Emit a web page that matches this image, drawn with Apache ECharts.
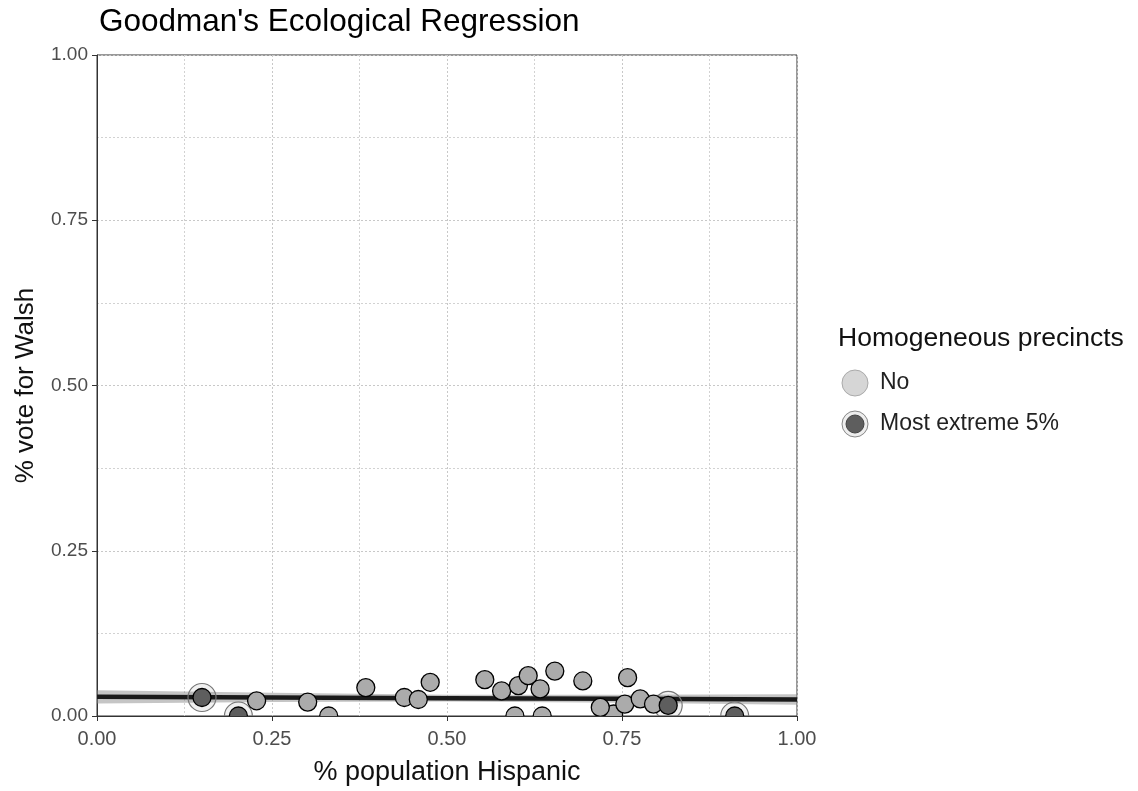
<!DOCTYPE html>
<html>
<head>
<meta charset="utf-8">
<script src="https://cdn.jsdelivr.net/npm/echarts@6/dist/echarts.min.js"></script>
<style>
html,body{margin:0;padding:0;background:#fff;}
#chart{width:1138px;height:791px;}
</style>
</head>
<body>
<div id="chart"></div>
<script>
// ---- data ----
const xNo = [0.228, 0.301, 0.331, 0.384, 0.439, 0.459, 0.476, 0.554, 0.578, 0.597, 0.602, 0.616, 0.633, 0.636, 0.654, 0.694, 0.738, 0.719, 0.754, 0.758, 0.776, 0.795];
const yNo = [0.023, 0.021, 0.000, 0.043, 0.028, 0.025, 0.051, 0.055, 0.038, 0.000, 0.046, 0.061, 0.041, 0.000, 0.068, 0.053, 0.003, 0.013, 0.018, 0.058, 0.026, 0.018];
const xExt = [0.150, 0.202, 0.816, 0.911];
const yExt = [0.028, 0.000, 0.016, 0.000];
const fitX = [0, 0.25, 0.5, 0.75, 1];
const fitY = [0.029, 0.028, 0.027, 0.026, 0.025];
const bandLow = [0.019, 0.021, 0.022, 0.020, 0.017];
const bandHigh = [0.039, 0.035, 0.032, 0.032, 0.033];
const tickLabels = ['0.00', '0.25', '0.50', '0.75', '1.00'];
const titleText = "Goodman's Ecological Regression";
const xTitle = '% population Hispanic';
const yTitle = '% vote for Walsh';
const legendTitle = 'Homogeneous precincts';
const legendNames = ['No', 'Most extreme 5%'];

const FONT = '"Liberation Sans", Arial, sans-serif';
const noData = xNo.map((x, i) => [x, yNo[i]]);
const extData = xExt.map((x, i) => [x, yExt[i]]);
const fitData = fitX.map((x, i) => [x, fitY[i]]);
const bandData = fitX.map((x, i) => [x, bandLow[i], bandHigh[i]]);

const axisCommon = {
  type: 'value', min: 0, max: 1, interval: 0.25,
  axisLine: { show: true, onZero: false, lineStyle: { color: '#333', width: 1 } },
  axisTick: { show: true, length: 5, lineStyle: { color: '#333' } },
  splitLine: { show: true, lineStyle: { color: '#c8c8c8', width: 1, type: [2, 2] } },
  minorTick: { show: false, splitNumber: 2 },
  minorSplitLine: { show: true, lineStyle: { color: '#d2d2d2', width: 1, type: [2, 2] } },
  axisLabel: { color: '#4d4d4d', fontSize: 19.5, fontFamily: FONT,
    formatter: v => tickLabels[Math.round(v / 0.25)] },
  nameLocation: 'middle',
  nameTextStyle: { color: '#111', fontSize: 27, fontFamily: FONT }
};

function dotSeries(name, data, z, r, style) {
  return {
    type: 'custom', name: name, z: z, clip: true, data: data,
    renderItem: function (params, api) {
      const p = api.coord([api.value(0), api.value(1)]);
      return { type: 'circle', shape: { cx: p[0], cy: p[1], r: r }, style: style };
    }
  };
}

const chart = echarts.init(document.getElementById('chart'), null, { renderer: 'canvas' });
chart.setOption({
  animation: false,
  backgroundColor: '#fff',
  title: { text: titleText, left: 99, top: 6, padding: 0,
    textStyle: { color: '#000', fontSize: 31.5, fontWeight: 'normal', fontFamily: FONT } },
  grid: { left: 97, top: 55, width: 700, height: 662, show: true, borderColor: '#333', borderWidth: 1, backgroundColor: 'transparent' },
  xAxis: Object.assign({}, axisCommon, { name: xTitle, nameGap: 43,
    axisLabel: Object.assign({}, axisCommon.axisLabel, { margin: 13, fontSize: 20 }) }),
  yAxis: Object.assign({}, axisCommon, { name: yTitle, nameGap: 58, nameRotate: 90,
    nameTextStyle: { color: '#111', fontSize: 26, fontFamily: FONT },
    axisLabel: Object.assign({}, axisCommon.axisLabel, { margin: 9, fontSize: 19 }) }),
  series: [
    { type: 'custom', name: 'band', z: 1, silent: true, clip: true,
      data: bandData,
      renderItem: function (params, api) {
        if (params.dataIndex !== 0) return null;
        const top = bandData.map(d => api.coord([d[0], d[2]]));
        const bot = bandData.slice().reverse().map(d => api.coord([d[0], d[1]]));
        return { type: 'polygon', shape: { points: top.concat(bot) },
          style: { fill: 'rgba(140,140,140,0.5)', stroke: null } };
      } },
    { type: 'line', name: 'fit', z: 2, data: fitData, symbol: 'none', silent: true,
      lineStyle: { color: '#1a1a1a', width: 4.5 } },
    dotSeries('ring', extData, 3, 14, { fill: 'rgba(0,0,0,0.06)', stroke: '#777', lineWidth: 1.2 }),
    dotSeries(legendNames[0], noData, 4, 9, { fill: '#ababab', stroke: '#000', lineWidth: 1.3 }),
    dotSeries(legendNames[1], extData, 5, 9, { fill: '#5e5e5e', stroke: '#000', lineWidth: 1.3 })
  ],
  graphic: [
    { type: 'text', left: 838, top: 325, style: { text: legendTitle, fill: '#111', fontSize: 26.5, fontFamily: FONT } },
    { type: 'circle', shape: { cx: 855, cy: 383, r: 13 }, style: { fill: '#d6d6d6', stroke: '#aaa', lineWidth: 1 } },
    { type: 'text', left: 880, top: 371, style: { text: legendNames[0], fill: '#222', fontSize: 23, fontFamily: FONT } },
    { type: 'circle', shape: { cx: 855, cy: 424, r: 13 }, style: { fill: '#eeeeee', stroke: '#888', lineWidth: 1 } },
    { type: 'circle', shape: { cx: 855, cy: 424, r: 9 }, style: { fill: '#5e5e5e', stroke: '#444', lineWidth: 1 } },
    { type: 'text', left: 880, top: 412, style: { text: legendNames[1], fill: '#222', fontSize: 23, fontFamily: FONT } }
  ]
});
</script>
</body>
</html>
